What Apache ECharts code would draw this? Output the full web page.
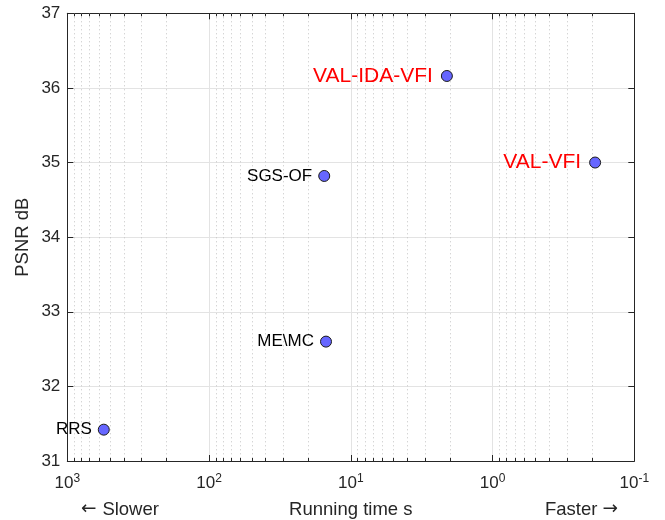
<!DOCTYPE html>
<html>
<head>
<meta charset="utf-8">
<script src="https://cdn.jsdelivr.net/npm/echarts@6/dist/echarts.min.js"></script>
<style>html,body{margin:0;padding:0;background:#fff}#c{width:665px;height:520px}</style>
</head>
<body>
<div id="c"></div>
<script>
// ---- data ----
const methods = ['RRS', 'ME\\MC', 'SGS-OF', 'VAL-IDA-VFI', 'VAL-VFI'];
const runTime = [553, 14.96, 15.4, 2.10, 0.189];
const psnr = [31.42, 32.60, 34.82, 36.16, 35.00];
const proposed = ['VAL-IDA-VFI', 'VAL-VFI'];
const xMin = 0.1, xMax = 1000;
const yMin = 31, yMax = 37, yStep = 1;
const minorX = [];
[0.1, 1, 10, 100].forEach(d => { for (let k = 2; k <= 9; k++) minorX.push(+(d * k).toPrecision(3)); });

const FONT = '"Liberation Sans", Arial, Helvetica, sans-serif';
const AX = '#262626';

const chart = echarts.init(document.getElementById('c'), null, {renderer: 'canvas'});

const xAxisBase = {
  type: 'log', logBase: 10, min: xMin, max: xMax, inverse: true
};

const arrowRich = {
  a: {fontFamily: '"DejaVu Sans"', fontSize: 18.5, fill: AX, color: AX},
  t: {fontFamily: FONT, fontSize: 18.5, fill: AX, color: AX}
};

chart.setOption({
  animation: false,
  textStyle: {fontFamily: FONT},
  grid: {left: 67.3, right: 30.7, top: 13.3, bottom: 59, containLabel: false, outerBoundsMode: 'none'},
  xAxis: [
    Object.assign({}, xAxisBase, {
      position: 'bottom',
      axisLine: {show: true, lineStyle: {color: AX, width: 1}},
      axisTick: {show: true, inside: true, length: 6, lineStyle: {color: AX}},
      splitLine: {show: true, lineStyle: {color: '#e3e3e3', width: 1}},
      axisLabel: {
        show: true, margin: 12, color: AX, fontFamily: FONT,
        formatter: v => '{b|10}{e|' + Math.round(Math.log10(v)) + '}',
        rich: {
          b: {fontSize: 17, color: AX, fontFamily: FONT, lineHeight: 20},
          e: {fontSize: 12, color: AX, fontFamily: FONT, lineHeight: 20, padding: [0, 0, 9, 0]}
        }
      },
      name: 'Running time s', nameLocation: 'middle', nameGap: 39, nameMoveOverlap: false,
      nameTextStyle: {fontSize: 18.5, color: AX, fontFamily: FONT}
    }),
    Object.assign({}, xAxisBase, {
      position: 'top',
      axisLine: {show: true, lineStyle: {color: AX, width: 1}},
      axisTick: {show: true, inside: true, length: 6, lineStyle: {color: AX}},
      splitLine: {show: false},
      axisLabel: {show: false}
    })
  ],
  yAxis: [
    {
      type: 'value', min: yMin, max: yMax, interval: yStep, position: 'left',
      axisLine: {show: true, lineStyle: {color: AX, width: 1}},
      axisTick: {show: true, inside: true, length: 6, lineStyle: {color: AX}},
      splitLine: {show: true, lineStyle: {color: '#e3e3e3', width: 1}},
      axisLabel: {show: true, margin: 7, fontSize: 17, color: AX, fontFamily: FONT},
      name: 'PSNR dB', nameLocation: 'middle', nameGap: 35, nameMoveOverlap: false,
      nameTextStyle: {fontSize: 18.5, color: AX, fontFamily: FONT}
    },
    {
      type: 'value', min: yMin, max: yMax, interval: yStep, position: 'right',
      axisLine: {show: true, lineStyle: {color: AX, width: 1}},
      axisTick: {show: true, inside: true, length: 6, lineStyle: {color: AX}},
      splitLine: {show: false},
      axisLabel: {show: false}
    }
  ],
  graphic: [
    {type: 'text', left: 81, top: 500, style: {text: '{a|\u2190\u00a0}{t|Slower}', rich: arrowRich, fill: AX}},
    {type: 'text', right: 47, top: 500, style: {text: '{t|Faster\u00a0}{a|\u2192}', rich: arrowRich, fill: AX}}
  ],
  series: [
    {
      type: 'custom', xAxisIndex: 0, yAxisIndex: 0, z: 1, silent: true,
      data: minorX.map(v => [v, yMin]),
      renderItem: function (params, api) {
        const v = api.value(0);
        const t = api.coord([v, yMax]);
        const b = api.coord([v, yMin]);
        const x = Math.round(t[0]) + 0.5;
        return {
          type: 'group',
          children: [
            {type: 'line', shape: {x1: x, y1: t[1], x2: x, y2: b[1]},
             style: {stroke: '#c4c4c4', lineWidth: 1, lineDash: [1, 3]}},
            {type: 'line', shape: {x1: x, y1: b[1], x2: x, y2: b[1] - 3},
             style: {stroke: AX, lineWidth: 1}},
            {type: 'line', shape: {x1: x, y1: t[1], x2: x, y2: t[1] + 3},
             style: {stroke: AX, lineWidth: 1}}
          ]
        };
      }
    },
    {
      type: 'scatter', xAxisIndex: 0, yAxisIndex: 0, z: 5,
      symbol: 'circle', symbolSize: 11,
      itemStyle: {color: '#6666ff', borderColor: '#1a1a1a', borderWidth: 1, opacity: 1},
      data: methods.map((m, i) => {
        const red = proposed.includes(m);
        return {
          name: m, value: [runTime[i], psnr[i]],
          label: {
            show: true, position: 'left', distance: red ? 8 : 6, formatter: '{b}',
            fontSize: red ? 21 : 17, color: red ? '#ff0000' : '#000000', fontFamily: FONT
          }
        };
      })
    }
  ]
});
</script>
</body>
</html>
